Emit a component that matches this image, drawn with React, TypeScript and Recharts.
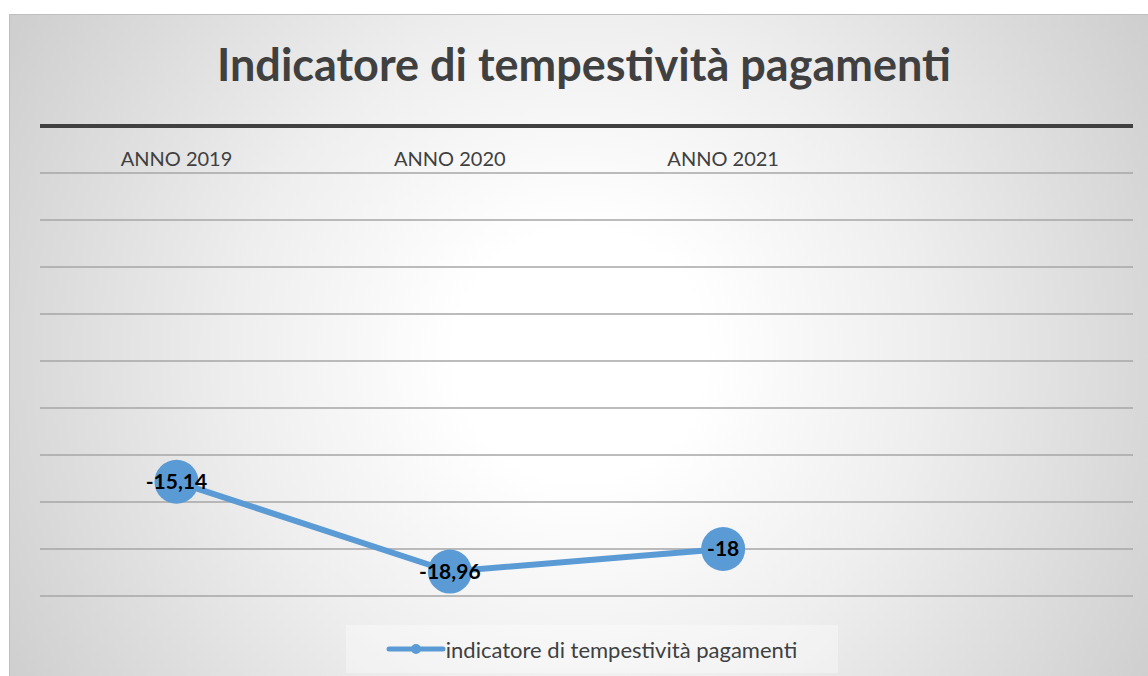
import React from "react";
import {
  LineChart,
  Line,
  XAxis,
  YAxis,
  CartesianGrid,
  ReferenceLine,
  LabelList,
  Legend,
} from "recharts";

const categories = ["ANNO 2019", "ANNO 2020", "ANNO 2021", ""];
const indicatore = [-15.14, -18.96, -18, null];
const yTicks = [0, -2, -4, -6, -8, -10, -12, -14, -16, -18, -20];
const seriesName = "indicatore di tempestività pagamenti";
const title = "Indicatore di tempestività pagamenti";

const data = categories.map((anno, i) => ({ anno, value: indicatore[i] }));

const FONT = "Lato, 'Open Sans', sans-serif";
const BLUE = "#5B9BD5";

// category labels sit under the thick 0-line, inside the plot
function CategoryTick(props: any) {
  const { x, payload } = props;
  return (
    <text
      x={x}
      y={166}
      textAnchor="middle"
      fontFamily={FONT}
      fontSize={20}
      fill="#404040"
    >
      {payload.value}
    </text>
  );
}

function LegendBox(props: any) {
  const item = props.payload && props.payload[0];
  return (
    <div
      style={{
        height: 77,
        display: "flex",
        alignItems: "flex-end",
        justifyContent: "center",
      }}
    >
      <div
        style={{
          width: 492,
          height: 48,
          marginLeft: 10,
          background: "rgba(255,255,255,0.35)",
          display: "flex",
          alignItems: "center",
          justifyContent: "center",
          fontFamily: FONT,
          fontSize: 22,
          color: "#404040",
        }}
      >
        <svg width={60} height={14} style={{ marginRight: 0 }}>
          <line x1={3} y1={7} x2={57} y2={7} stroke={BLUE} strokeWidth={5} strokeLinecap="round" />
          <circle cx={30} cy={7} r={5} fill={BLUE} />
        </svg>
        <span>{item ? item.value : seriesName}</span>
      </div>
    </div>
  );
}

export default function App() {
  return (
    <div
      style={{
        position: "fixed",
        left: 0,
        top: 0,
        width: 1148,
        height: 676,
        overflow: "hidden",
        background: "#ffffff",
      }}
    >
      <div
        style={{
          position: "absolute",
          left: 9,
          top: 14,
          width: 1160,
          height: 700,
          border: "1px solid #bfbfbf",
          background:
            "radial-gradient(circle at 570px 340px, #ffffff 0%, #ffffff 18%, #eeeeee 50%, #cbcbcb 100%)",
        }}
      />
      <div
        style={{
          position: "absolute",
          left: 9,
          width: 1150,
          top: 37,
          lineHeight: "54px",
          fontFamily: FONT,
          fontSize: 45,
          fontWeight: 700,
          color: "#404040",
          textAlign: "center",
        }}
      >
        {title}
      </div>
      <div style={{ position: "absolute", left: 0, top: 0 }}>
        <LineChart
          width={1148}
          height={676}
          data={data}
          margin={{ top: 125, right: 15, bottom: 3, left: 40 }}
        >
          <CartesianGrid
            vertical={false}
            horizontalValues={yTicks}
            stroke="#a6a6a6"
            strokeWidth={1.5}
          />
          <XAxis
            dataKey="anno"
            orientation="top"
            height={1}
            axisLine={false}
            tickLine={false}
            interval={0}
            padding={{ left: 136.5, right: 136.5 }}
            tick={<CategoryTick />}
          />
          <YAxis
            domain={[-20, 0]}
            ticks={yTicks}
            width={0}
            hide
          />
          <ReferenceLine y={0} stroke="#404040" strokeWidth={4} />
          <Legend verticalAlign="bottom" align="center" content={<LegendBox />} />
          <Line
            type="linear"
            dataKey="value"
            name={seriesName}
            stroke={BLUE}
            strokeWidth={6}
            dot={{ r: 22, fill: BLUE, stroke: "none" }}
            activeDot={false}
            isAnimationActive={false}
          >
            <LabelList
              dataKey="value"
              position="center"
              formatter={(v: any) => (v == null ? "" : String(v).replace(".", ","))}
              fontFamily={FONT}
              fontSize={21}
              fontWeight={700}
              fill="#000000"
            />
          </Line>
        </LineChart>
      </div>
    </div>
  );
}
